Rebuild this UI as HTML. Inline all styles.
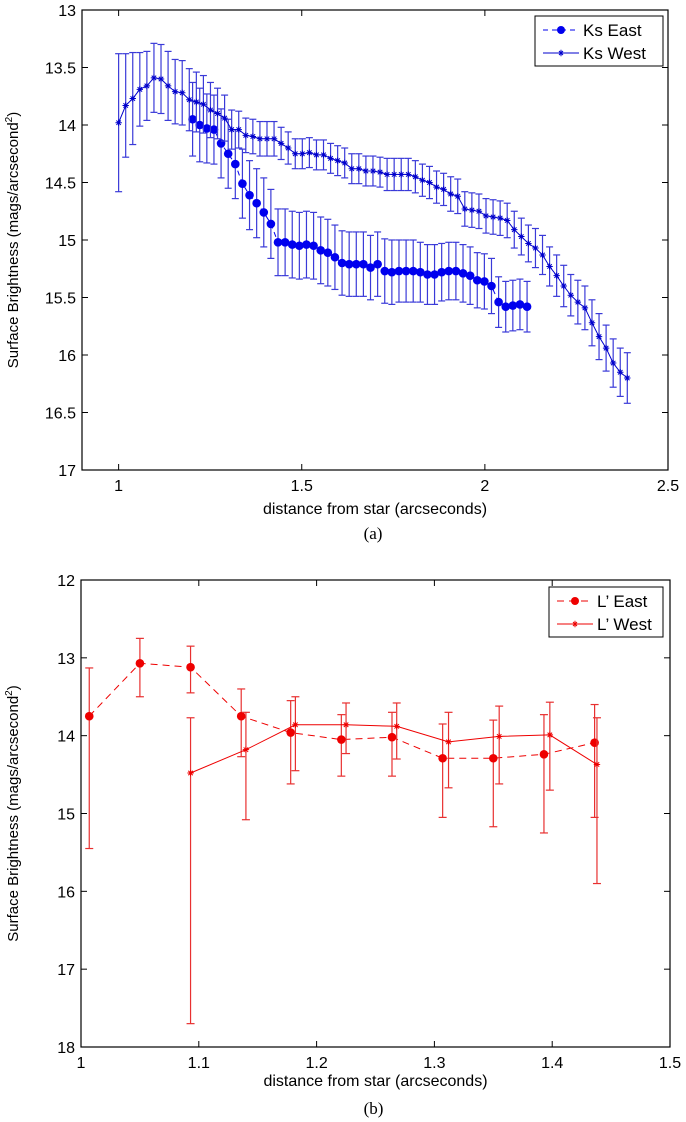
<!DOCTYPE html>
<html><head><meta charset="utf-8"><style>
html,body{margin:0;padding:0;background:#fff;}
svg{display:block;font-family:"Liberation Sans",sans-serif;}
</style></head><body>
<svg id="c" width="686" height="1122" viewBox="0 0 686 1122" xmlns="http://www.w3.org/2000/svg"></svg>
<script>
// Panel (a) data
const aWestX0 = 1.0, aWestStep = 0.01929;
const aWestY = [13.98,13.83,13.77,13.69,13.66,13.59,13.6,13.66,13.71,13.72,13.78,13.8,13.82,13.87,13.9,13.94,14.04,14.04,14.09,14.1,14.12,14.12,14.12,14.16,14.2,14.25,14.25,14.24,14.26,14.26,14.29,14.31,14.33,14.38,14.38,14.4,14.4,14.41,
 14.43,14.43,14.43,14.43,14.45,14.48,14.5,14.54,14.56,14.6,14.62,14.73,14.74,14.75,14.79,14.8,14.81,14.83,14.91,14.97,15.03,15.07,15.13,15.23,15.31,15.4,15.48,15.54,15.59,15.72,15.84,15.94,16.07,16.15,16.2];
const aWestErr = [0.6,0.45,0.4,0.32,0.3,0.3,0.3,0.3,0.28,0.28,0.27,0.26,0.25,0.24,0.22,0.2,0.17,0.16,0.15,0.15,0.15,0.15,0.15,0.14,0.14,0.13,0.13,0.13,0.13,0.13,0.13,0.13,0.13,0.13,0.13,0.13,0.13,0.13,
 0.14,0.14,0.14,0.14,0.14,0.14,0.14,0.14,0.14,0.15,0.15,0.15,0.15,0.15,0.15,0.15,0.15,0.15,0.16,0.16,0.16,0.17,0.17,0.17,0.18,0.18,0.18,0.19,0.19,0.2,0.2,0.2,0.21,0.21,0.22];
const aEastX0 = 1.202, aEastStep = 0.01943;
const aEastY = [13.95,14.0,14.03,14.04,14.16,14.25,14.34,14.51,14.61,14.68,14.76,14.86,15.02,15.02,15.04,15.05,15.04,15.05,15.09,15.11,15.15,15.2,15.21,15.21,15.21,15.24,15.21,
 15.27,15.28,15.27,15.27,15.27,15.28,15.3,15.3,15.28,15.27,15.27,15.29,15.31,15.35,15.36,15.4,15.54,15.58,15.57,15.56,15.58];
const aEastErr = [0.32,0.32,0.3,0.3,0.3,0.3,0.3,0.3,0.3,0.3,0.3,0.3,0.29,0.29,0.29,0.29,0.29,0.29,0.29,0.29,0.28,0.28,0.28,0.28,0.28,0.28,0.28,
 0.28,0.28,0.27,0.27,0.27,0.26,0.26,0.26,0.25,0.25,0.25,0.25,0.25,0.24,0.24,0.24,0.22,0.22,0.22,0.22,0.22];
const aXTicks = [1,1.5,2,2.5];
const aYTicks = [13,13.5,14,14.5,15,15.5,16,16.5,17];
// Panel (b) data
const bEastX = [1.007,1.05,1.093,1.136,1.178,1.221,1.264,1.307,1.35,1.393,1.436];
const bEastY = [13.75,13.07,13.12,13.75,13.96,14.05,14.02,14.29,14.29,14.24,14.09];
const bEastLo = [13.13,12.75,12.85,13.4,13.55,13.73,13.7,13.85,13.8,13.73,13.6];
const bEastHi = [15.45,13.5,13.45,14.27,14.62,14.52,14.52,15.05,15.17,15.25,15.05];
const bWestX = [1.093,1.14,1.182,1.225,1.268,1.312,1.355,1.398,1.438];
const bWestY = [14.48,14.18,13.86,13.86,13.88,14.08,14.01,13.99,14.37];
const bWestLo = [13.77,13.7,13.5,13.58,13.58,13.7,13.62,13.57,13.77];
const bWestHi = [17.7,15.08,14.45,14.23,14.3,14.67,14.62,14.7,15.9];
const bXTicks = [1,1.1,1.2,1.3,1.4,1.5];
const bYTicks = [12,13,14,15,16,17,18];

const NS="http://www.w3.org/2000/svg";
const svg=document.getElementById('c');
function mk(tag,attrs,parent){const e=document.createElementNS(NS,tag);for(const k in attrs)e.setAttribute(k,attrs[k]);(parent||svg).appendChild(e);return e;}

function panel(cfg){
  const g=mk('g',{});
  
  
  const L=cfg.L,R=cfg.R,T=cfg.T,B=cfg.B;
  const sx=v=>L+(v-cfg.x0)/(cfg.x1-cfg.x0)*(R-L);
  const sy=v=>T+(v-cfg.y0)/(cfg.y1-cfg.y0)*(B-T);
  const box=mk('rect',{x:L,y:T,width:R-L,height:B-T,fill:'#fff',stroke:'#000','stroke-width':1.2},g);
  
  
  cfg.xt.forEach(v=>{const x=sx(v);
    mk('line',{x1:x,y1:B,x2:x,y2:B-6,stroke:'#000'},g);mk('line',{x1:x,y1:T,x2:x,y2:T+6,stroke:'#000'},g);
    const t=mk('text',{x:x,y:B+21,'text-anchor':'middle','font-size':16},g);t.textContent=String(v);
    
    });
  cfg.yt.forEach(v=>{const y=sy(v);
    mk('line',{x1:L,y1:y,x2:L+6,y2:y,stroke:'#000'},g);mk('line',{x1:R,y1:y,x2:R-6,y2:y,stroke:'#000'},g);
    const t=mk('text',{x:L-6,y:y+6,'text-anchor':'end','font-size':16},g);t.textContent=String(v);
    
    });
  cfg.series.forEach(s=>{
    const sg=mk('g',{},g);
    
    
    const cap=s.cap;
    s.xs.forEach((xv,i)=>{const x=sx(xv);const y1=sy(s.lo[i]),y2=sy(s.hi[i]);
      mk('line',{x1:x,y1:y1,x2:x,y2:y2,stroke:s.ecol,'stroke-width':1.2},sg);
      mk('line',{x1:x-cap,y1:y1,x2:x+cap,y2:y1,stroke:s.ecol,'stroke-width':1.2},sg);
      mk('line',{x1:x-cap,y1:y2,x2:x+cap,y2:y2,stroke:s.ecol,'stroke-width':1.2},sg);});
    const pts=s.xs.map((xv,i)=>sx(xv).toFixed(1)+','+sy(s.ys[i]).toFixed(1)).join(' ');
    mk('polyline',{points:pts,fill:'none',stroke:s.col,'stroke-width':1,'stroke-dasharray':s.dash||'none'},sg);
    s.xs.forEach((xv,i)=>{const x=sx(xv),y=sy(s.ys[i]);
      if(s.marker==='dot')mk('circle',{cx:x,cy:y,r:s.r,fill:s.col},sg);
      else{const r=3.2;mk('path',{d:`M${x-r},${y}H${x+r}M${x},${y-r}V${y+r}M${x-r*0.7},${y-r*0.7}L${x+r*0.7},${y+r*0.7}M${x-r*0.7},${y+r*0.7}L${x+r*0.7},${y-r*0.7}`,stroke:s.col,'stroke-width':1},sg);}
    });
  });
  const yl=mk('text',{x:0,y:0,'text-anchor':'middle','font-size':15,transform:`translate(${cfg.ytx},${(T+B)/2}) rotate(-90)`},g);
  yl.innerHTML='Surface Brightness (mags/arcsecond<tspan dy="-6" font-size="10">2</tspan><tspan dy="6">)</tspan>';
  
  
  const xl=mk('text',{x:(L+R)/2,y:B+cfg.xto,'text-anchor':'middle','font-size':16},g);xl.textContent='distance from star (arcseconds)';
  
  
  const cap=mk('text',{x:(L+R)/2-2,y:B+cfg.cpo,'text-anchor':'middle','font-size':17,'font-family':'Liberation Serif, serif'},g);cap.textContent=cfg.caption;
  
  
  const lg=mk('g',{},g);
  
  
  const lb=cfg.leg;
  mk('rect',{x:lb.x,y:lb.y,width:lb.w,height:lb.h,fill:'#fff',stroke:'#000','stroke-width':1},lg);
  cfg.series.forEach((s,i)=>{const y=lb.y+14+i*23;const x0=lb.x+8,x1=lb.x+44;
    const le=mk('g',{},lg);
    
    
    mk('line',{x1:x0,y1:y,x2:x1,y2:y,stroke:s.col,'stroke-dasharray':s.dash||'none'},le);
    const mx=(x0+x1)/2;
    if(s.marker==='dot')mk('circle',{cx:mx,cy:y,r:4,fill:s.col},le);
    else{const r=3.2;mk('path',{d:`M${mx-r},${y}H${mx+r}M${mx},${y-r}V${y+r}M${mx-2},${y-2}L${mx+2},${y+2}M${mx-2},${y+2}L${mx+2},${y-2}`,stroke:s.col},le);}
    const t=mk('text',{x:x1+4,y:y+6,'font-size':17},le);t.textContent=s.label;});
}

const aWX=aWestY.map((_,i)=>aWestX0+i*aWestStep);
const aEX=aEastY.map((_,i)=>aEastX0+i*aEastStep);
panel({name:'panel-a-ks',L:82,R:668,T:10,B:470,x0:0.9,x1:2.5,y0:13,y1:17,xt:aXTicks,yt:aYTicks,ytx:18,xto:44,cpo:69,caption:'(a)',
  leg:{x:535,y:16,w:128,h:50},
  series:[
   {name:'series-ks-east',label:'Ks East',xs:aEX,ys:aEastY,lo:aEastY.map((v,i)=>v-aEastErr[i]),hi:aEastY.map((v,i)=>v+aEastErr[i]),col:'#0000ee',ecol:'#3a3ad8',dash:'5,4',marker:'dot',r:4.3,cap:3.5},
   {name:'series-ks-west',label:'Ks West',xs:aWX,ys:aWestY,lo:aWestY.map((v,i)=>v-aWestErr[i]),hi:aWestY.map((v,i)=>v+aWestErr[i]),col:'#0000cc',ecol:'#3a3ad8',marker:'star',cap:3.5}
  ]});
panel({name:'panel-b-lprime',L:81,R:670,T:580,B:1047,x0:1.0,x1:1.5,y0:12,y1:18,xt:bXTicks,yt:bYTicks,ytx:18,xto:39,cpo:67,caption:'(b)',
  leg:{x:549,y:587,w:114,h:50},
  series:[
   {name:'series-l-east',label:'L\u2019 East',xs:bEastX,ys:bEastY,lo:bEastLo,hi:bEastHi,col:'#ee0000',ecol:'#e83030',dash:'7,5',marker:'dot',r:4.3,cap:4},
   {name:'series-l-west',label:'L\u2019 West',xs:bWestX,ys:bWestY,lo:bWestLo,hi:bWestHi,col:'#ee0000',ecol:'#e83030',marker:'star',cap:4}
  ]});
</script>
</body></html>
